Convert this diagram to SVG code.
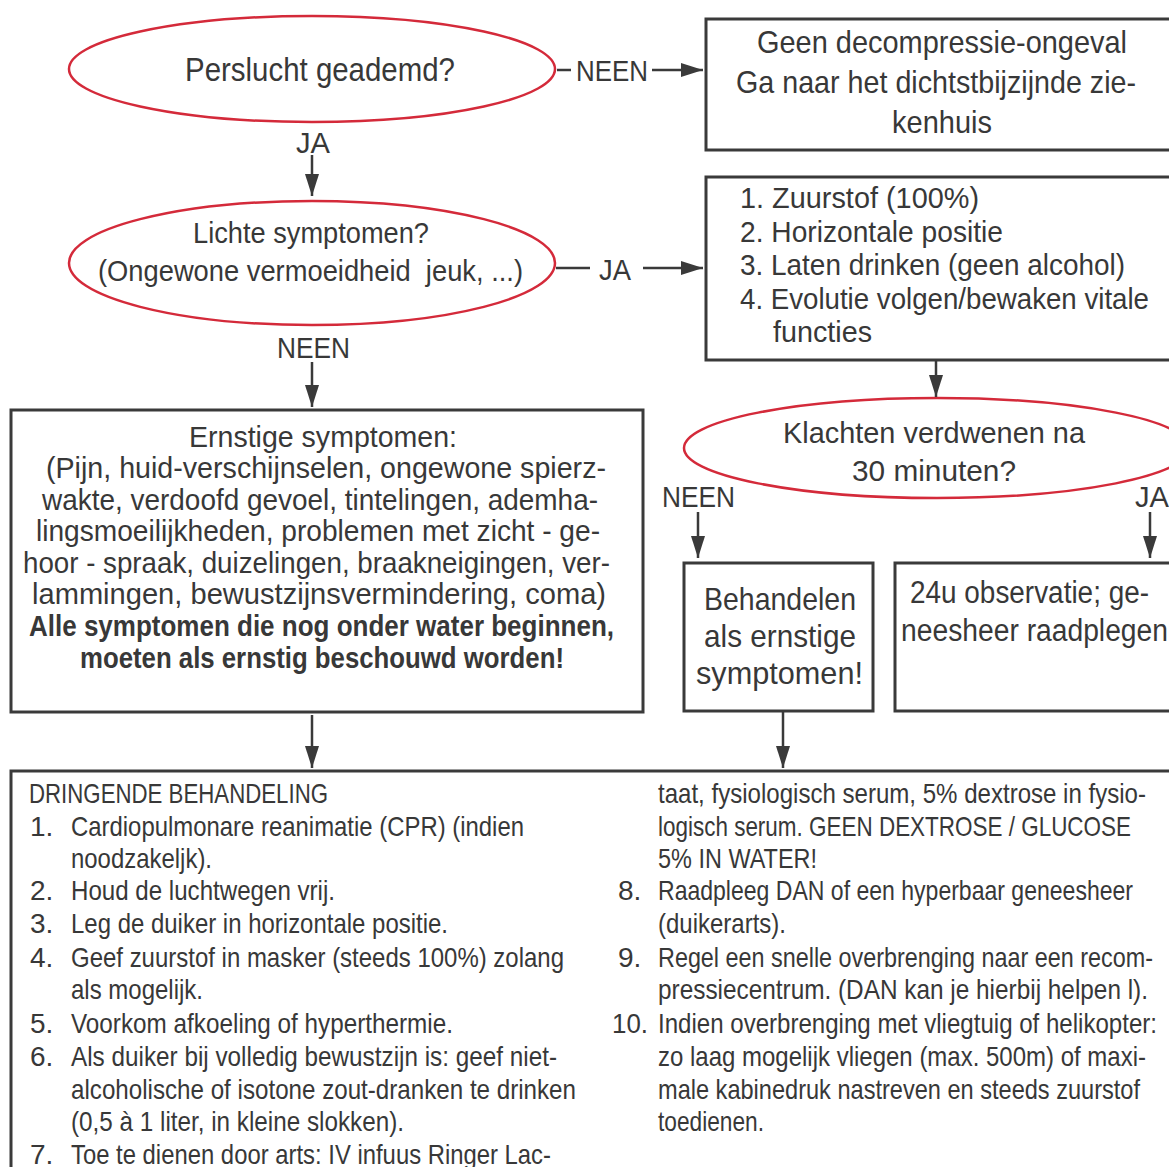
<svg xmlns="http://www.w3.org/2000/svg" width="1169" height="1167" viewBox="0 0 1169 1167">
<style>
text{font-family:"Liberation Sans",Arial,sans-serif;fill:#383838}
.q{fill:#fff;stroke:#d42a3a;stroke-width:2.5}
.b{fill:#fff;stroke:#3a3a3a;stroke-width:3}
.l{stroke:#3a3a3a;stroke-width:2.5;fill:none}
.f33{font-size:33px}.f32{font-size:32px}.f31{font-size:31px}.f30{font-size:30px}.f29{font-size:29px}.f28{font-size:28px}
.bold{font-weight:bold}
</style>
<defs>
<marker id="ah" markerUnits="userSpaceOnUse" markerWidth="24" markerHeight="14" refX="22" refY="7" orient="auto">
<path d="M0,0 L22,7 L0,14 Z" fill="#3a3a3a"/>
</marker>
</defs>
<rect width="1169" height="1167" fill="#fff"/>

<g id="q1">
<ellipse class="q" cx="312" cy="69" rx="243" ry="53"/>
<text class="f33" x="185" y="81" textLength="270" lengthAdjust="spacingAndGlyphs">Perslucht geademd?</text>
</g>
<g id="box1">
<rect class="b" x="706" y="19" width="470" height="131"/>
<text class="f32" x="757" y="53" textLength="370" lengthAdjust="spacingAndGlyphs">Geen decompressie-ongeval</text>
<text class="f32" x="736" y="93" textLength="400" lengthAdjust="spacingAndGlyphs">Ga naar het dichtstbijzijnde zie-</text>
<text class="f32" x="892" y="133" textLength="100" lengthAdjust="spacingAndGlyphs">kenhuis</text>
</g>
<g id="q2">
<ellipse class="q" cx="312" cy="263" rx="243" ry="62"/>
<text class="f29" x="193" y="243" textLength="236" lengthAdjust="spacingAndGlyphs">Lichte symptomen?</text>
<text class="f29" x="98" y="281" textLength="425" lengthAdjust="spacingAndGlyphs">(Ongewone vermoeidheid&#160; jeuk, ...)</text>
</g>
<g id="box2">
<rect class="b" x="706" y="177" width="470" height="183"/>
<text class="f29" x="740" y="208" textLength="239" lengthAdjust="spacingAndGlyphs">1. Zuurstof (100%)</text>
<text class="f29" x="740" y="242" textLength="263" lengthAdjust="spacingAndGlyphs">2. Horizontale positie</text>
<text class="f29" x="740" y="275" textLength="385" lengthAdjust="spacingAndGlyphs">3. Laten drinken (geen alcohol)</text>
<text class="f29" x="740" y="309" textLength="409" lengthAdjust="spacingAndGlyphs">4. Evolutie volgen/bewaken vitale</text>
<text class="f29" x="773" y="342" textLength="99" lengthAdjust="spacingAndGlyphs">functies</text>
</g>
<g id="q3">
<ellipse class="q" cx="937" cy="448" rx="253" ry="50"/>
<text class="f30" x="783" y="443" textLength="302" lengthAdjust="spacingAndGlyphs">Klachten verdwenen na</text>
<text class="f30" x="852" y="481" textLength="164" lengthAdjust="spacingAndGlyphs">30 minuten?</text>
</g>
<g id="box3">
<rect class="b" x="11" y="410" width="632" height="302"/>
<text class="f29" x="189" y="447" textLength="268" lengthAdjust="spacingAndGlyphs">Ernstige symptomen:</text>
<text class="f29" x="46" y="478" textLength="560" lengthAdjust="spacingAndGlyphs">(Pijn, huid-verschijnselen, ongewone spierz-</text>
<text class="f29" x="42" y="510" textLength="556" lengthAdjust="spacingAndGlyphs">wakte, verdoofd gevoel, tintelingen, ademha-</text>
<text class="f29" x="36" y="541" textLength="564" lengthAdjust="spacingAndGlyphs">lingsmoeilijkheden, problemen met zicht - ge-</text>
<text class="f29" x="23" y="573" textLength="587" lengthAdjust="spacingAndGlyphs">hoor - spraak, duizelingen, braakneigingen, ver-</text>
<text class="f29" x="32" y="604" textLength="574" lengthAdjust="spacingAndGlyphs">lammingen, bewustzijnsvermindering, coma)</text>
<text class="f29 bold" x="29" y="636" textLength="585" lengthAdjust="spacingAndGlyphs">Alle symptomen die nog onder water beginnen,</text>
<text class="f29 bold" x="80" y="668" textLength="484" lengthAdjust="spacingAndGlyphs">moeten als ernstig beschouwd worden!</text>
</g>
<g id="box4">
<rect class="b" x="684" y="563" width="189" height="148"/>
<text class="f32" x="704" y="610" textLength="152" lengthAdjust="spacingAndGlyphs">Behandelen</text>
<text class="f32" x="704" y="647" textLength="152" lengthAdjust="spacingAndGlyphs">als ernstige</text>
<text class="f32" x="696" y="684" textLength="167" lengthAdjust="spacingAndGlyphs">symptomen!</text>
</g>
<g id="box5">
<rect class="b" x="895" y="563" width="281" height="148"/>
<text class="f31" x="910" y="603" textLength="239" lengthAdjust="spacingAndGlyphs">24u observatie; ge-</text>
<text class="f31" x="901" y="641" textLength="267" lengthAdjust="spacingAndGlyphs">neesheer raadplegen</text>
</g>
<g id="box6">
<rect class="b" x="11" y="771" width="1165" height="420"/>
<g class="f28">
<text x="29" y="803" textLength="299" lengthAdjust="spacingAndGlyphs">DRINGENDE BEHANDELING</text>
<text x="30" y="836">1.</text><text x="71" y="836" textLength="453" lengthAdjust="spacingAndGlyphs">Cardiopulmonare reanimatie (CPR) (indien</text>
<text x="71" y="868" textLength="141" lengthAdjust="spacingAndGlyphs">noodzakeljk).</text>
<text x="30" y="900">2.</text><text x="71" y="900" textLength="264" lengthAdjust="spacingAndGlyphs">Houd de luchtwegen vrij.</text>
<text x="30" y="933">3.</text><text x="71" y="933" textLength="377" lengthAdjust="spacingAndGlyphs">Leg de duiker in horizontale positie.</text>
<text x="30" y="967">4.</text><text x="71" y="967" textLength="493" lengthAdjust="spacingAndGlyphs">Geef zuurstof in masker (steeds 100%) zolang</text>
<text x="71" y="999" textLength="132" lengthAdjust="spacingAndGlyphs">als mogelijk.</text>
<text x="30" y="1033">5.</text><text x="71" y="1033" textLength="382" lengthAdjust="spacingAndGlyphs">Voorkom afkoeling of hyperthermie.</text>
<text x="30" y="1066">6.</text><text x="71" y="1066" textLength="486" lengthAdjust="spacingAndGlyphs">Als duiker bij volledig bewustzijn is: geef niet-</text>
<text x="71" y="1099" textLength="505" lengthAdjust="spacingAndGlyphs">alcoholische of isotone zout-dranken te drinken</text>
<text x="71" y="1131" textLength="333" lengthAdjust="spacingAndGlyphs">(0,5 à 1 liter, in kleine slokken).</text>
<text x="30" y="1164">7.</text><text x="71" y="1164" textLength="480" lengthAdjust="spacingAndGlyphs">Toe te dienen door arts: IV infuus Ringer Lac-</text>
<text x="658" y="803" textLength="488" lengthAdjust="spacingAndGlyphs">taat, fysiologisch serum, 5% dextrose in fysio-</text>
<text x="658" y="836" textLength="473" lengthAdjust="spacingAndGlyphs">logisch serum. GEEN DEXTROSE / GLUCOSE</text>
<text x="658" y="868" textLength="159" lengthAdjust="spacingAndGlyphs">5% IN WATER!</text>
<text x="618" y="900">8.</text><text x="658" y="900" textLength="475" lengthAdjust="spacingAndGlyphs">Raadpleeg DAN of een hyperbaar geneesheer</text>
<text x="658" y="933" textLength="128" lengthAdjust="spacingAndGlyphs">(duikerarts).</text>
<text x="618" y="967">9.</text><text x="658" y="967" textLength="495" lengthAdjust="spacingAndGlyphs">Regel een snelle overbrenging naar een recom-</text>
<text x="658" y="999" textLength="490" lengthAdjust="spacingAndGlyphs">pressiecentrum. (DAN kan je hierbij helpen l).</text>
<text x="612" y="1033" textLength="36" lengthAdjust="spacingAndGlyphs">10.</text><text x="658" y="1033" textLength="499" lengthAdjust="spacingAndGlyphs">Indien overbrenging met vliegtuig of helikopter:</text>
<text x="658" y="1066" textLength="488" lengthAdjust="spacingAndGlyphs">zo laag mogelijk vliegen (max. 500m) of maxi-</text>
<text x="658" y="1099" textLength="482" lengthAdjust="spacingAndGlyphs">male kabinedruk nastreven en steeds zuurstof</text>
<text x="658" y="1131" textLength="106" lengthAdjust="spacingAndGlyphs">toedienen.</text>
</g>
</g>

<g id="connectors">
<line class="l" x1="557" y1="70" x2="571" y2="70"/>
<text class="f29" x="576" y="81" textLength="72" lengthAdjust="spacingAndGlyphs">NEEN</text>
<line class="l" x1="652" y1="70" x2="703" y2="70" marker-end="url(#ah)"/>
<text class="f29" x="296" y="153" textLength="34" lengthAdjust="spacingAndGlyphs">JA</text>
<line class="l" x1="312" y1="155" x2="312" y2="196" marker-end="url(#ah)"/>
<line class="l" x1="556" y1="268" x2="590" y2="268"/>
<text class="f29" x="599" y="280" textLength="32" lengthAdjust="spacingAndGlyphs">JA</text>
<line class="l" x1="643" y1="268" x2="703" y2="268" marker-end="url(#ah)"/>
<text class="f29" x="277" y="358" textLength="73" lengthAdjust="spacingAndGlyphs">NEEN</text>
<line class="l" x1="312" y1="362" x2="312" y2="407" marker-end="url(#ah)"/>
<line class="l" x1="936" y1="360" x2="936" y2="397" marker-end="url(#ah)"/>
<text class="f29" x="662" y="507" textLength="73" lengthAdjust="spacingAndGlyphs">NEEN</text>
<line class="l" x1="698" y1="512" x2="698" y2="558" marker-end="url(#ah)"/>
<text class="f29" x="1135" y="507" textLength="34" lengthAdjust="spacingAndGlyphs">JA</text>
<line class="l" x1="1150" y1="512" x2="1150" y2="558" marker-end="url(#ah)"/>
<line class="l" x1="312" y1="715" x2="312" y2="768" marker-end="url(#ah)"/>
<line class="l" x1="783" y1="712" x2="783" y2="768" marker-end="url(#ah)"/>
</g>
</svg>
